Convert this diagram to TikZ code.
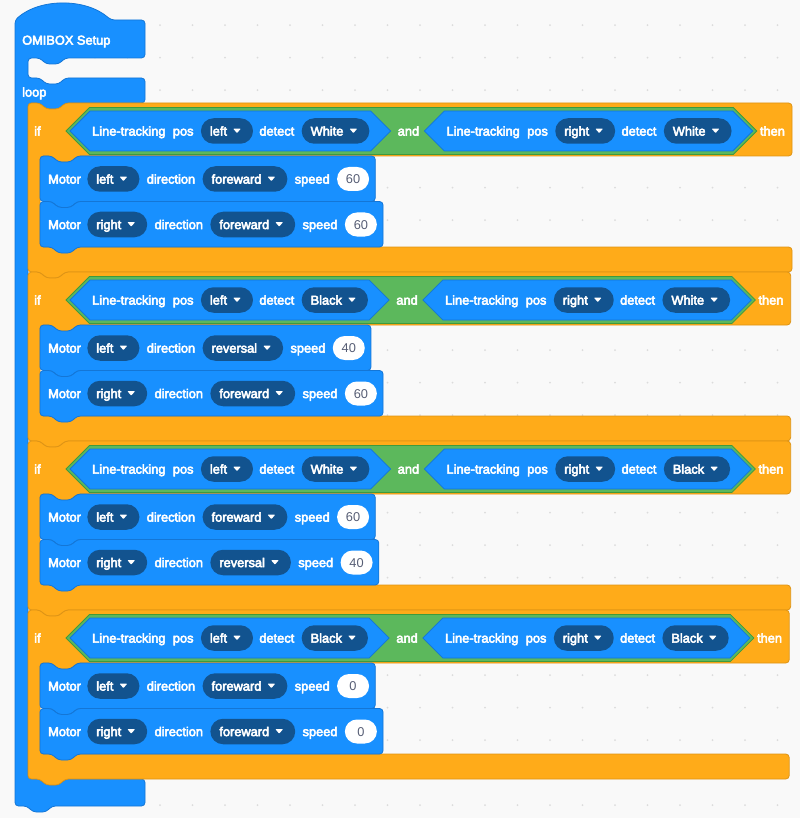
\documentclass[tikz,border=0pt]{standalone}
\usepackage{fontspec}
\setmainfont{Liberation Sans}
\newfontfamily\blockfont{Liberation Sans}[FakeBold=4]
\usetikzlibrary{calc,positioning}

\definecolor{canvasbg}{HTML}{F9F9F9}
\definecolor{dotgray}{HTML}{DCDCDC}
\definecolor{blockblue}{HTML}{1890FF}
\definecolor{blueedge}{HTML}{1476D6}
\definecolor{pilldark}{HTML}{12538F}
\definecolor{ctrlorange}{HTML}{FFAB19}
\definecolor{orangeedge}{HTML}{DE9416}
\definecolor{opgreen}{HTML}{5CB85C}
\definecolor{greenedge}{HTML}{3E9A3E}
\definecolor{numgray}{HTML}{575E75}

\pgfdeclarelayer{grid}
\pgfdeclarelayer{shell}
\pgfdeclarelayer{bool}
\pgfdeclarelayer{hex}
\pgfsetlayers{grid,shell,bool,hex,main}

\tikzset{
  lbl/.style={text=white, font=\blockfont\fontsize{12.8}{14}\selectfont,
    inner sep=0pt, text height=9.2pt, text depth=0pt},
  dd/.style={lbl, fill=pilldark, rounded corners=12.7pt, inner xsep=9pt,
    minimum height=25.5pt},
  num/.style={fill=white, text=numgray, font=\fontsize{12.8}{14}\selectfont,
    inner sep=0pt, text height=9.2pt, text depth=0pt, minimum width=32pt,
    minimum height=24pt, rounded corners=12pt},
  blueblock/.style={fill=blockblue, draw=blueedge, line width=0.8pt, rounded corners=3.5pt},
  orangeblock/.style={fill=ctrlorange, draw=orangeedge, line width=0.8pt, rounded corners=3.5pt},
  greenhex/.style={fill=opgreen, draw=greenedge, line width=0.8pt},
  bluehex/.style={fill=blockblue, draw=blueedge, line width=0.8pt},
}

% x coordinate (as a plain number) of a node anchor
\newcommand\anchorx[3]{\pgfpointanchor{#1}{#2}\pgfgetlastxy{\tmpAX}{\tmpAY}\pgfmathsetmacro#3{\tmpAX}}

% text of a dropdown field, with room left for its arrow
\newcommand\ddtext[1]{#1\rule{17pt}{0pt}}

% small white triangle of a dropdown field
\newcommand\ddarrow[1]{\fill[white, rounded corners=0.6pt] ($(#1.east)+(-20,-2.3)$) -- ++(7.6,0) -- ++(-3.8,4.4) -- cycle;}

% line-tracking sensor: id, left point x, centre y, side, colour
\newcommand\sensor[5]{%
  \node[lbl, anchor=west] (#1-lt) at (#2+22,#3) {Line-tracking};
  \node[lbl, right=7pt of #1-lt] (#1-pos) {pos};
  \node[dd, right=7pt of #1-pos] (#1-side) {\ddtext{#4}};
  \ddarrow{#1-side}
  \node[lbl, right=6pt of #1-side] (#1-det) {detect};
  \node[dd, right=7pt of #1-det] (#1-col) {\ddtext{#5}};
  \ddarrow{#1-col}
  \anchorx{#1-col}{east}{\hexQ}%
  \pgfmathsetmacro\hexQ{\hexQ+21}%
  \begin{pgfonlayer}{hex}
    \draw[bluehex] (#2,#3) -- (#2+20,#3-20) -- (\hexQ-20,#3-20) -- (\hexQ,#3)
      -- (\hexQ-20,#3+20) -- (#2+20,#3+20) -- cycle;
  \end{pgfonlayer}%
}

% if block with an "and" condition: id, top y, side1, colour1, side2, colour2
\newcommand\condrow[6]{%
  \pgfmathsetmacro\rowc{#2+28}%
  \node[lbl, anchor=west] (#1-if) at (34,\rowc) {if};
  \sensor{#1-a}{70}{\rowc}{#3}{#4}%
  \pgfmathsetmacro\firstQ{\hexQ}%
  \node[lbl, anchor=west] (#1-and) at (\firstQ+7,\rowc) {and};
  \anchorx{#1-and}{east}{\andP}%
  \pgfmathsetmacro\andP{\andP+5}%
  \sensor{#1-b}{\andP}{\rowc}{#5}{#6}%
  \pgfmathsetmacro\greenQ{\hexQ+4}%
  \node[lbl, anchor=west] (#1-then) at (\greenQ+3,\rowc) {then};
  \anchorx{#1-then}{east}{\shellR}%
  \pgfmathsetmacro\shellR{\shellR+7}%
  \begin{pgfonlayer}{bool}
    \draw[greenhex] (66,\rowc) -- (89.5,\rowc-23.5) -- (\greenQ-23.5,\rowc-23.5) -- (\greenQ,\rowc)
      -- (\greenQ-23.5,\rowc+23.5) -- (89.5,\rowc+23.5) -- cycle;
  \end{pgfonlayer}
  \begin{pgfonlayer}{shell}
    \draw[orangeblock] (28,#2) -- (40,#2) -- (46,#2+6) -- (59,#2+6) -- (65,#2) -- (\shellR,#2)
      -- (\shellR,#2+53) -- (77,#2+53) -- (71,#2+59) -- (58,#2+59) -- (52,#2+53) -- (40,#2+53)
      -- (40,#2+144) -- (\shellR,#2+144) -- (\shellR,#2+169) -- (65,#2+169) -- (59,#2+175)
      -- (46,#2+175) -- (40,#2+169) -- (28,#2+169) -- cycle;
  \end{pgfonlayer}%
}

% motor statement: id, top y, side, direction, speed
\newcommand\motor[5]{%
  \pgfmathsetmacro\motc{#2+23}%
  \node[lbl, anchor=west] (#1-motor) at (48,\motc) {Motor};
  \node[dd, right=6pt of #1-motor] (#1-side) {\ddtext{#3}};
  \ddarrow{#1-side}
  \node[lbl, right=7pt of #1-side] (#1-dirl) {direction};
  \node[dd, right=7pt of #1-dirl] (#1-dir) {\ddtext{#4}};
  \ddarrow{#1-dir}
  \node[lbl, right=7pt of #1-dir] (#1-spd) {speed};
  \node[num, right=7pt of #1-spd] (#1-val) {#5};
  \anchorx{#1-val}{east}{\motR}%
  \pgfmathsetmacro\motR{\motR+6}%
  \begin{pgfonlayer}{shell}
    \draw[blueblock] (40,#2) -- (52,#2) -- (58,#2+6) -- (71,#2+6) -- (77,#2) -- (\motR,#2)
      -- (\motR,#2+45.5) -- (77,#2+45.5) -- (71,#2+51.5) -- (58,#2+51.5) -- (52,#2+45.5)
      -- (40,#2+45.5) -- cycle;
  \end{pgfonlayer}%
}

\begin{document}
\begin{tikzpicture}[x=1pt,y=-1pt]
\useasboundingbox (0,0) rectangle (800,818);

% workspace with its dot grid
\begin{pgfonlayer}{grid}
  \fill[canvasbg] (0,0) rectangle (800,818);
  \foreach \i in {-4,...,19}{
    \foreach \j in {0,...,24}{
      \fill[dotgray] (160+32.5*\i,25.2+32.5*\j) circle (1);
    }
  }
\end{pgfonlayer}

% setup / loop hat block
\begin{pgfonlayer}{shell}
  \draw[blueblock] (15,806) -- (15,20) .. controls (40,-2) and (86,-2) .. (111,20) -- (145,20)
    -- (145,58) -- (65,58) -- (59,64) -- (46,64) -- (40,58) -- (28,58)
    -- (28,78) -- (40,78) -- (46,84) -- (59,84) -- (65,78) -- (145,78)
    -- (145,103) -- (65,103) -- (59,109) -- (46,109) -- (40,103) -- (28,103)
    -- (28,779) -- (40,779) -- (46,785) -- (59,785) -- (65,779) -- (145,779)
    -- (145,806) -- (52,806) -- (46,812) -- (33,812) -- (27,806) -- cycle;
\end{pgfonlayer}
\node[lbl, anchor=west] (setup) at (22,40) {OMIBOX Setup};
\node[lbl, anchor=west] (loop) at (22,92) {loop};

\condrow{r1}{103}{left}{White}{right}{White}
\motor{r1m1}{156}{left}{foreward}{60}
\motor{r1m2}{201.5}{right}{foreward}{60}

\condrow{r2}{272}{left}{Black}{right}{White}
\motor{r2m1}{325}{left}{reversal}{40}
\motor{r2m2}{370.5}{right}{foreward}{60}

\condrow{r3}{441}{left}{White}{right}{Black}
\motor{r3m1}{494}{left}{foreward}{60}
\motor{r3m2}{539.5}{right}{reversal}{40}

\condrow{r4}{610}{left}{Black}{right}{Black}
\motor{r4m1}{663}{left}{foreward}{0}
\motor{r4m2}{708.5}{right}{foreward}{0}
\end{tikzpicture}
\end{document}
